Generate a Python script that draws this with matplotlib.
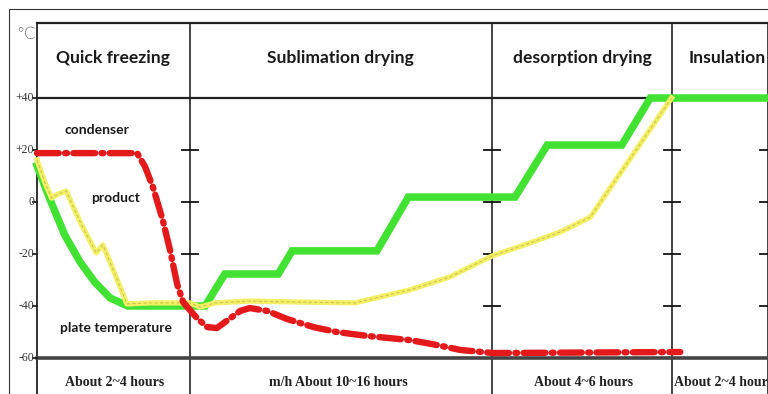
import matplotlib.pyplot as plt

# time axis in arbitrary units (0 = start of quick freezing), temperature in degC
PHASES = ["Quick freezing", "Sublimation drying", "desorption drying", "Insulation"]
PHASE_EDGES = [0, 20.9, 62.2, 86.9, 100]
DURATIONS = ["About 2~4 hours", "m/h About 10~16 hours", "About 4~6 hours", "About 2~4 hours"]
Y_TICKS = [40, 20, 0, -20, -40, -60]
Y_TICK_LABELS = ["+40", "+20", "0", "-20", "-40", "-60"]

plate_t = [0, 1.8, 3.8, 5.9, 7.9, 10.0, 12.4, 23.0, 25.7, 33.0, 34.9, 46.5, 50.8,
           65.4, 69.8, 80.0, 83.9, 100]
plate_temp = [14, 0.8, -12.7, -23.1, -30.8, -36.9, -40, -40, -27.7, -27.7, -18.8,
              -18.8, 1.9, 1.9, 21.9, 21.9, 40, 40]

product_t = [0, 1.1, 2.0, 2.9, 4.0, 5.9, 8.1, 9.0, 10.0, 12.3, 15.5, 20.9, 22.3,
             24.4, 29.1, 36.0, 43.5, 51.0, 56.5, 62.2, 67.4, 71.6, 75.7, 86.8]
product_temp = [16.2, 7.3, 1.5, 3.1, 4.2, -7.7, -19.6, -16.5, -23.1, -39.2, -38.8,
                -38.8, -40.4, -38.8, -38.1, -38.5, -38.8, -33.8, -28.8, -20.8, -15.8,
                -11.5, -5.8, 40]

cond_t = [0, 13.7, 14.8, 15.9, 17.2, 18.2, 19.2, 20.0, 20.9, 22.0, 23.3, 24.6, 26.1,
          27.8, 29.1, 31.5, 34.2, 37.8, 41.0, 45.1, 51.0, 54.7, 57.9, 62.4, 88.0]
cond_temp = [18.8, 18.8, 13.5, 5.4, -6.9, -18.5, -31.9, -38.5, -41.5, -45, -48.1,
             -48.5, -45.4, -41.9, -40.8, -41.9, -45, -48.1, -50, -51.5, -53.1, -55,
             -56.9, -58.1, -57.7]

GREEN = "#42e232"
RED = "#e3191c"
YELLOW = "#f4f066"


def main() -> None:
    fig = plt.figure(figsize=(7.68, 3.94), dpi=100)
    ax = fig.add_axes([0, 0, 1, 1])
    ax.set_xlim(-5.06, 100)
    ax.set_ylim(-73.85, 77.7)
    ax.axis("off")

    top = 68.8
    bottom = -80

    # outer frame
    ax.plot([-3.83, -3.83, 101], [bottom, 74.2, 74.2], color="#333333", lw=0.8)

    # table lines
    ax.plot([0, 0], [bottom, top], color="#222222", lw=1.3)
    for x in PHASE_EDGES[1:]:
        ax.plot([x, x], [bottom, top], color="#111111", lw=1.1)
    ax.plot([0, 100], [top, top], color="#222222", lw=1.6)
    ax.plot([0, 100], [40, 40], color="#222222", lw=1.6)
    ax.plot([0, 100], [-60, -60], color="#444444", lw=2.6)

    # y ticks
    for val, lab in zip(Y_TICKS, Y_TICK_LABELS):
        ax.plot([-0.55, 0], [val, val], color="#222222", lw=1.3)
        ax.text(-0.35, val, lab, ha="right", va="center", fontsize=8.5,
                family="Liberation Serif", color="#333333")
    ax.text(-1.64, 64.6, "\u2103", ha="center", va="center", fontsize=12,
            family="DejaVu Sans", color="#777777", fontweight="light")

    # cross ticks on the phase dividers
    for x in PHASE_EDGES[1:]:
        for val in Y_TICKS[1:5]:
            ax.plot([x - 1.1, x + 1.1], [val, val], color="#111111", lw=1.3)

    # curves
    ax.plot(plate_t, plate_temp, color=GREEN, lw=5.4, solid_joinstyle="miter",
            zorder=3)
    ax.plot(product_t, product_temp, color=YELLOW, lw=3.8, zorder=4)
    ax.plot(product_t, product_temp, color="#cbc452", lw=0.8,
            linestyle=(0, (3, 2)), zorder=5)
    ax.plot(cond_t, cond_temp, color=RED, lw=4.6, linestyle=(0, (3.4, 1.0, 0.3, 1.0)),
            dash_capstyle="round", zorder=6)

    # phase headers
    for i, name in enumerate(PHASES):
        cx = (PHASE_EDGES[i] + PHASE_EDGES[i + 1]) / 2
        if i == 3:
            cx = 94.4
        ax.text(cx, 55.4, name, ha="center", va="center", fontsize=12.6,
                family="Lato", fontweight="bold", color="#1a1a1a")

    # durations
    dur_x = [10.6, 41.2, 74.8]
    for x, lab in zip(dur_x, DURATIONS[:3]):
        ax.text(x, -69.6, lab, ha="center", va="center", fontsize=10,
                family="Liberation Serif", fontweight="bold", color="#222222")
    ax.text(PHASE_EDGES[3] + 0.2, -69.6, DURATIONS[3], ha="left", va="center",
            fontsize=10, family="Liberation Serif", fontweight="bold",
            color="#222222")

    # curve labels
    ax.text(8.2, 27.7, "condenser", ha="center", va="center", fontsize=10,
            family="Lato", fontweight="bold", color="#1a1a1a")
    ax.text(10.8, 1.5, "product", ha="center", va="center", fontsize=10,
            family="Lato", fontweight="bold", color="#1a1a1a")
    ax.text(10.8, -48.5, "plate temperature", ha="center", va="center", fontsize=10,
            family="Lato", fontweight="bold", color="#1a1a1a")

    fig.savefig("out.png", dpi=100)


if __name__ == "__main__":
    main()
